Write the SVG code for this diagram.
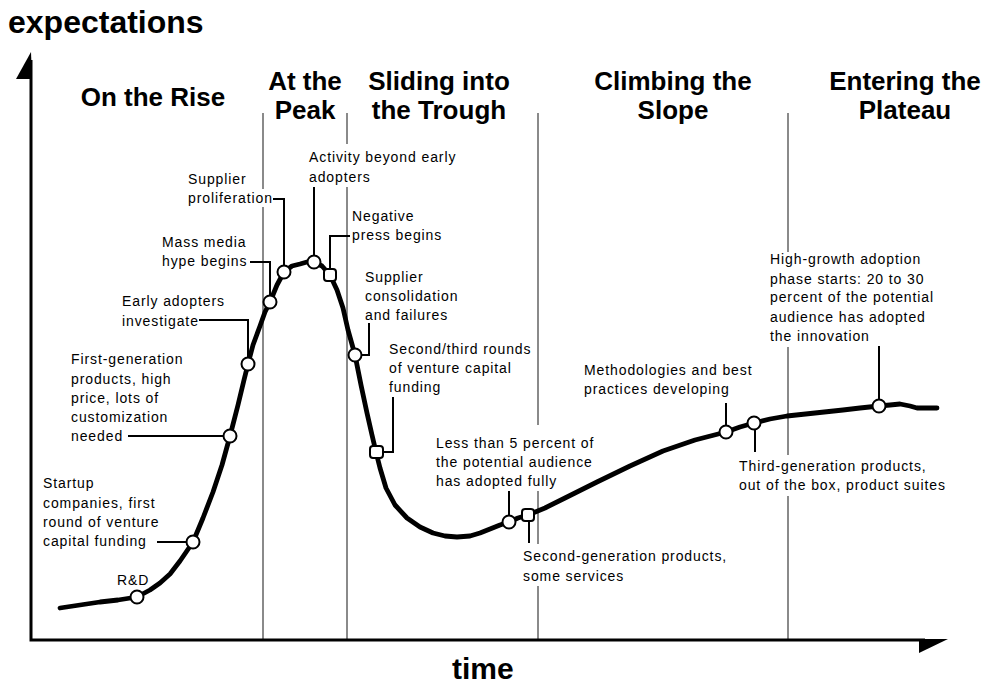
<svg xmlns="http://www.w3.org/2000/svg" width="984" height="686" viewBox="0 0 984 686">
<style>
.lbl{font-family:"Liberation Sans",Arial,sans-serif;font-size:14px;letter-spacing:0.9px;fill:#000}
.hd{font-family:"Liberation Sans",Arial,sans-serif;font-size:26px;font-weight:bold;fill:#000;text-anchor:middle}
.ax{font-family:"Liberation Sans",Arial,sans-serif;font-weight:bold;fill:#000}
.grid{stroke:#8a8a8a;stroke-width:2;fill:none}
.lead{stroke:#000;stroke-width:2;fill:none}
.mk{fill:#fff;stroke:#000;stroke-width:2}
</style>
<rect width="984" height="686" fill="#fff"/>
<g id="phase-lines">
<path class="grid" d="M263,113V189M263,207V639"/>
<path class="grid" d="M347,113V144M347,187V639"/>
<path class="grid" d="M538,113V425M538,491V544M538,586V639"/>
<path class="grid" d="M788,113V252M788,347V455M788,496V639"/>
</g>
<g id="axes">
<path d="M31,60V640H925" stroke="#000" stroke-width="3" fill="none"/>
<polygon points="31,52 16,79 32,79" fill="#000"/>
<polygon points="919,639 948,639 919,653" fill="#000"/>
<text class="ax" x="8" y="33" font-size="32">expectations</text>
<text class="ax" x="452" y="679" font-size="30">time</text>
</g>
<g id="headings">
<text class="hd" x="153" y="106">On the Rise</text>
<text class="hd" x="305" y="90">At the</text>
<text class="hd" x="305" y="119">Peak</text>
<text class="hd" x="439" y="90">Sliding into</text>
<text class="hd" x="439" y="119">the Trough</text>
<text class="hd" x="673" y="90">Climbing the</text>
<text class="hd" x="673" y="119">Slope</text>
<text class="hd" x="905" y="90">Entering the</text>
<text class="hd" x="905" y="119">Plateau</text>
</g>
<g id="connectors">
<path class="lead" d="M157,542H187"/>
<path class="lead" d="M128,436H224"/>
<path class="lead" d="M199,320H248V358"/>
<path class="lead" d="M250,262H270V296"/>
<path class="lead" d="M273,199H284V266"/>
<path class="lead" d="M314,187V256"/>
<path class="lead" d="M350,236H330V269"/>
<path class="lead" d="M369,323V355H362"/>
<path class="lead" d="M393,397V452H383"/>
<path class="lead" d="M509,491V516"/>
<path class="lead" d="M529,521V543"/>
<path class="lead" d="M726,403V426"/>
<path class="lead" d="M755,429V452"/>
<path class="lead" d="M879,346V400"/>
</g>
<g id="curve">
<polyline fill="none" stroke="#000" stroke-width="4.8" stroke-linejoin="round" stroke-linecap="round" points="60,608 80,605 100,602 118,600 137,597 150,590 160,583 170,574 180,561 193,542 203,518 213,492 222,465 230,436 238,405 244,380 248,364 253,345 260,326 265,312 270,302 277,285 284,272 292,266 300,264 307,262 314,262 322,266 330,275 337,290 343,308 348,330 355,355 361,385 367,413 372,435 376,452 380,468 386,488 395,505 407,518 420,527 433,533 445,536 457,537 470,536 480,533 490,529 500,525 509,522 518,518 528,515 545,508 565,498 597,482 630,466 663,451 695,440 726,432 740,427 754,423 770,419 787,416 815,413 843,410 860,408 879,406 890,405 900,404 910,406 917,408 937,408"/>
</g>
<g id="n-rd"><circle class="mk" cx="137" cy="597" r="6.5"/><text class="lbl" x="117" y="585">R&amp;D</text></g>
<g id="n-startup"><circle class="mk" cx="193" cy="542" r="6.5"/><text class="lbl" x="43" y="488">Startup</text><text class="lbl" x="43" y="507.5">companies, first</text><text class="lbl" x="43" y="526.5">round of venture</text><text class="lbl" x="43" y="545.5">capital funding</text></g>
<g id="n-firstgen"><circle class="mk" cx="230" cy="436" r="6.5"/><text class="lbl" x="71" y="364">First-generation</text><text class="lbl" x="71" y="383.5">products, high</text><text class="lbl" x="71" y="402.5">price, lots of</text><text class="lbl" x="71" y="422">customization</text><text class="lbl" x="71" y="441">needed</text></g>
<g id="n-early"><circle class="mk" cx="248" cy="364" r="6.5"/><text class="lbl" x="122" y="306">Early adopters</text><text class="lbl" x="122" y="325.5">investigate</text></g>
<g id="n-mass"><circle class="mk" cx="270" cy="302" r="6.5"/><text class="lbl" x="162" y="247">Mass media</text><text class="lbl" x="162" y="266">hype begins</text></g>
<g id="n-supprolif"><circle class="mk" cx="284" cy="272" r="6.5"/><text class="lbl" x="188" y="184">Supplier</text><text class="lbl" x="188" y="203">proliferation</text></g>
<g id="n-activity"><circle class="mk" cx="314" cy="262" r="6.5"/><text class="lbl" x="309" y="162">Activity beyond early</text><text class="lbl" x="309" y="182">adopters</text></g>
<g id="n-negative"><rect class="mk" x="324" y="269" width="12" height="12" rx="3"/><text class="lbl" x="352" y="220.5">Negative</text><text class="lbl" x="352" y="239.5">press begins</text></g>
<g id="n-consol"><circle class="mk" cx="355" cy="355" r="6.5"/><text class="lbl" x="365" y="282">Supplier</text><text class="lbl" x="365" y="301">consolidation</text><text class="lbl" x="365" y="320">and failures</text></g>
<g id="n-second"><rect class="mk" x="370" y="446" width="13" height="12" rx="3"/><text class="lbl" x="389" y="354">Second/third rounds</text><text class="lbl" x="389" y="373">of venture capital</text><text class="lbl" x="389" y="392">funding</text></g>
<g id="n-less"><circle class="mk" cx="509" cy="522" r="6.5"/><text class="lbl" x="436" y="448">Less than 5 percent of</text><text class="lbl" x="436" y="467">the potential audience</text><text class="lbl" x="436" y="486">has adopted fully</text></g>
<g id="n-secondgen"><rect class="mk" x="522" y="509" width="12" height="12" rx="3"/><text class="lbl" x="523" y="561">Second-generation products,</text><text class="lbl" x="523" y="580.5">some services</text></g>
<g id="n-method"><circle class="mk" cx="726" cy="432" r="6.5"/><text class="lbl" x="584" y="375">Methodologies and best</text><text class="lbl" x="584" y="394">practices developing</text></g>
<g id="n-thirdgen"><circle class="mk" cx="754" cy="423" r="6.5"/><text class="lbl" x="739" y="470.5">Third-generation products,</text><text class="lbl" x="739" y="490">out of the box, product suites</text></g>
<g id="n-highgrowth"><circle class="mk" cx="879" cy="406" r="6.5"/><text class="lbl" x="770" y="264">High-growth adoption</text><text class="lbl" x="770" y="284">phase starts: 20 to 30</text><text class="lbl" x="770" y="302">percent of the potential</text><text class="lbl" x="770" y="322">audience has adopted</text><text class="lbl" x="770" y="341">the innovation</text></g>
</svg>
